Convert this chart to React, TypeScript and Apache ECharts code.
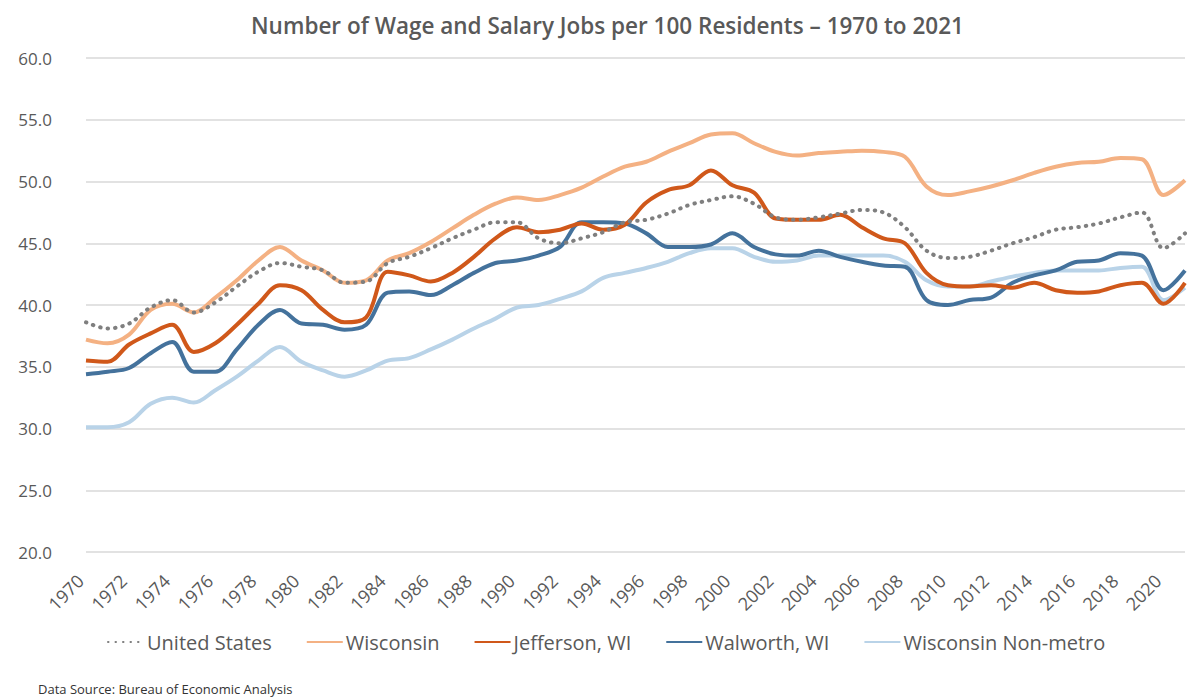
import React, { useEffect, useRef } from "react";
import * as echarts from "echarts";

const years: string[] = [];
for (let y = 1970; y <= 2021; y++) years.push(String(y));

const unitedStates = [
  38.6, 38.1, 38.5, 39.8, 40.4, 39.4, 40.2, 41.5, 42.7, 43.4, 43.1, 42.8, 41.8, 41.9, 43.4, 43.9, 44.6, 45.4, 46.1, 46.7,
  46.7, 45.4, 45.0, 45.4, 45.9, 46.7, 46.9, 47.4, 48.1, 48.5, 48.8, 48.2, 47.1, 46.9, 47.1, 47.4, 47.7, 47.5, 46.3, 44.4,
  43.8, 43.9, 44.4, 45.0, 45.5, 46.1, 46.3, 46.6, 47.1, 47.5, 44.6, 45.8,
];
const wisconsin = [
  37.2, 36.9, 37.6, 39.6, 40.1, 39.4, 40.6, 42.0, 43.6, 44.7, 43.6, 42.8, 41.8, 42.0, 43.6, 44.2, 45.1, 46.2, 47.3, 48.2,
  48.7, 48.5, 48.9, 49.5, 50.4, 51.2, 51.6, 52.4, 53.1, 53.8, 53.9, 53.1, 52.4, 52.1, 52.3, 52.4, 52.5, 52.4, 52.0, 49.6,
  48.9, 49.2, 49.6, 50.1, 50.7, 51.2, 51.5, 51.6, 51.9, 51.8, 48.9, 50.1,
];
const jefferson = [
  35.5, 35.4, 36.8, 37.7, 38.4, 36.2, 36.9, 38.4, 40.1, 41.6, 41.2, 39.6, 38.6, 39.0, 42.7, 42.4, 41.9, 42.6, 43.9, 45.4,
  46.3, 45.9, 46.1, 46.6, 46.1, 46.5, 48.3, 49.3, 49.7, 50.9, 49.7, 49.1, 47.0, 46.9, 46.9, 47.3, 46.3, 45.4, 45.0, 42.6,
  41.6, 41.5, 41.6, 41.4, 41.8, 41.2, 41.0, 41.1, 41.6, 41.8, 40.1, 41.8,
];
const walworth = [
  34.4, 34.6, 34.9, 36.1, 37.0, 34.6, 34.6, 36.4, 38.4, 39.6, 38.5, 38.4, 38.0, 38.4, 41.0, 41.1, 40.8, 41.6, 42.6, 43.4,
  43.6, 44.0, 44.7, 46.7, 46.7, 46.6, 45.8, 44.7, 44.7, 44.9, 45.8, 44.7, 44.1, 44.0, 44.4, 43.9, 43.5, 43.2, 43.1, 40.4,
  40.0, 40.4, 40.6, 41.8, 42.4, 42.8, 43.5, 43.6, 44.2, 44.0, 41.2, 42.8,
];
const nonMetro = [
  30.1, 30.1, 30.5, 32.0, 32.5, 32.1, 33.1, 34.2, 35.5, 36.6, 35.4, 34.7, 34.2, 34.7, 35.5, 35.7, 36.4, 37.2, 38.1, 38.9,
  39.8, 40.0, 40.5, 41.1, 42.2, 42.6, 43.0, 43.5, 44.2, 44.6, 44.6, 43.9, 43.5, 43.6, 44.0, 44.0, 44.0, 44.0, 43.5, 42.0,
  41.5, 41.5, 41.9, 42.3, 42.6, 42.8, 42.8, 42.8, 43.0, 43.1, 40.4, 41.4,
];

const seriesNames = ["United States", "Wisconsin", "Jefferson, WI", "Walworth, WI", "Wisconsin Non-metro"];
const seriesColors = ["#7f7f7f", "#f4b183", "#d0581a", "#44729c", "#b9d3e8"];
const seriesData = [unitedStates, wisconsin, jefferson, walworth, nonMetro];

const titleText = "Number of Wage and Salary Jobs per 100 Residents \u2013 1970 to 2021";
const sourceText = "Data Source: Bureau of Economic Analysis";

export default function App() {
  const ref = useRef<HTMLDivElement>(null);
  useEffect(() => {
    if (!ref.current) return;
    const chart = echarts.init(ref.current, undefined, { renderer: "svg" });
    const font = "'Open Sans', 'Noto Sans', sans-serif";
    chart.setOption({
      animation: false,
      backgroundColor: "#ffffff",
      title: [
        {
          text: titleText,
          left: 246,
          top: 9,
          textStyle: { fontFamily: font, fontSize: 22.5, fontWeight: 600, color: "#595959" },
        },
        {
          text: sourceText,
          left: 33,
          top: 677,
          textStyle: { fontFamily: font, fontSize: 13, fontWeight: "normal", color: "#333333" },
        },
      ],
      legend: {
        data: seriesNames,
        top: 627,
        left: 102,
        itemWidth: 36,
        itemHeight: 4,
        itemGap: 34,
        itemStyle: { opacity: 0 },
        textStyle: { fontFamily: font, fontSize: 20, color: "#595959", padding: [0, 0, 0, -2] },
      },
      grid: { left: 86, right: 6, top: 58, bottom: 146 },
      xAxis: {
        type: "category",
        data: years,
        boundaryGap: false,
        axisLine: { show: false },
        axisTick: { show: false },
        axisLabel: {
          interval: 1,
          rotate: 45,
          margin: 20,
          padding: [0, 8, 0, 0],
          fontFamily: font,
          fontSize: 18,
          color: "#595959",
        },
      },
      yAxis: {
        type: "value",
        min: 20,
        max: 60,
        interval: 5,
        axisLine: { show: false },
        axisTick: { show: false },
        axisLabel: {
          margin: 34,
          fontFamily: font,
          fontSize: 17,
          color: "#595959",
          formatter: (v: number) => v.toFixed(1),
        },
        splitLine: { lineStyle: { color: "#d9d9d9", width: 1.5 } },
      },
      series: seriesNames.map((name, i) => ({
        name,
        type: "line",
        data: seriesData[i],
        smooth: 0.35,
        symbol: "none",
        color: seriesColors[i],
        z: 10 - i,
        lineStyle: {
          color: seriesColors[i],
          width: 4,
          type: i === 0 ? [0.5, 7] : "solid",
          cap: i === 0 ? "round" : "butt",
        },
      })),
    });
    return () => chart.dispose();
  }, []);
  return (
    <div
      ref={ref}
      style={{ position: "fixed", left: 0, top: 0, width: 1191, height: 698 }}
    />
  );
}
